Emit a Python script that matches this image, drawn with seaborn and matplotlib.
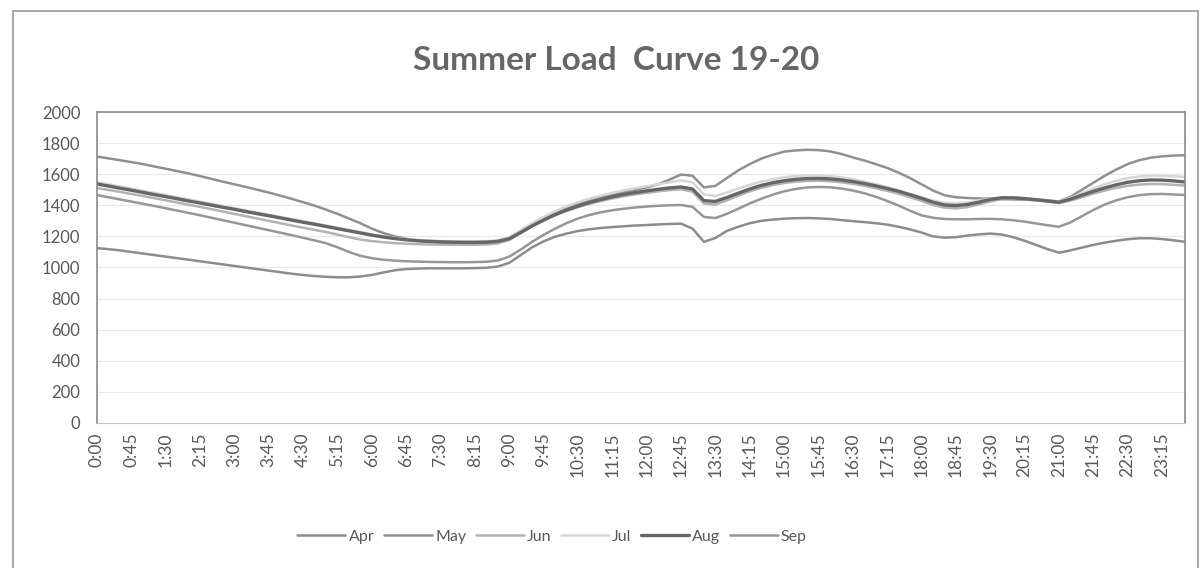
import pandas as pd
import matplotlib.pyplot as plt
import matplotlib.patches as mpatches
import seaborn as sns

# 15-minute load readings, 0:00 .. 23:45 (96 points per month)
months = ['Apr', 'May', 'Jun', 'Jul', 'Aug', 'Sep']

apr = [1125, 1118, 1110, 1100, 1090, 1080, 1070, 1060, 1050, 1040, 1030, 1020,
       1010, 1000, 990, 980, 970, 960, 952, 945, 940, 937, 937, 942,
       952, 968, 982, 990, 993, 995, 995, 995, 995, 996, 998, 1006,
       1030, 1080, 1130, 1168, 1198, 1218, 1235, 1246, 1254, 1260, 1265, 1270,
       1273, 1277, 1280, 1282, 1250, 1165, 1190, 1235, 1262, 1285, 1300, 1308,
       1314, 1317, 1318, 1316, 1312, 1305, 1298, 1292, 1285, 1276, 1262, 1245,
       1225, 1200, 1192, 1195, 1205, 1213, 1218, 1212, 1195, 1172, 1145, 1118,
       1095, 1110, 1128, 1145, 1160, 1172, 1182, 1188, 1188, 1183, 1175, 1165]

may = [1713, 1702, 1690, 1678, 1665, 1650, 1635, 1620, 1605, 1588, 1570, 1552,
       1535, 1518, 1500, 1482, 1462, 1442, 1420, 1398, 1372, 1345, 1315, 1285,
       1250, 1222, 1200, 1185, 1172, 1165, 1160, 1157, 1155, 1155, 1156, 1160,
       1180, 1225, 1275, 1320, 1355, 1385, 1410, 1430, 1450, 1468, 1485, 1500,
       1515, 1535, 1565, 1598, 1590, 1515, 1525, 1575, 1625, 1665, 1700, 1725,
       1745, 1753, 1757, 1755, 1747, 1730, 1708, 1688, 1665, 1640, 1610, 1575,
       1535, 1495, 1465, 1452, 1447, 1444, 1442, 1440, 1438, 1436, 1434, 1430,
       1425, 1455, 1500, 1545, 1590, 1630, 1665, 1690, 1706, 1715, 1720, 1722]

jun = [1511, 1499, 1486, 1473, 1460, 1446, 1432, 1418, 1404, 1390, 1375, 1360,
       1345, 1330, 1315, 1300, 1285, 1270, 1256, 1242, 1228, 1212, 1195, 1180,
       1170, 1162, 1157, 1153, 1150, 1148, 1147, 1146, 1146, 1146, 1148, 1155,
       1178, 1222, 1265, 1302, 1335, 1363, 1388, 1410, 1428, 1444, 1458, 1470,
       1480, 1490, 1498, 1503, 1488, 1412, 1405, 1432, 1462, 1490, 1512, 1530,
       1543, 1552, 1557, 1558, 1555, 1548, 1538, 1525, 1510, 1493, 1475, 1452,
       1428, 1402, 1385, 1380, 1388, 1405, 1425, 1440, 1442, 1438, 1431, 1423,
       1414, 1430, 1452, 1475, 1495, 1512, 1525, 1533, 1537, 1536, 1532, 1527]

jul = [1548, 1535, 1521, 1508, 1494, 1480, 1466, 1452, 1438, 1424, 1410, 1396,
       1382, 1368, 1354, 1340, 1326, 1312, 1298, 1284, 1270, 1256, 1242, 1228,
       1214, 1201, 1191, 1183, 1177, 1173, 1170, 1168, 1167, 1167, 1169, 1175,
       1195, 1240, 1285, 1325, 1362, 1393, 1420, 1443, 1462, 1480, 1496, 1510,
       1523, 1535, 1548, 1560, 1548, 1470, 1460, 1482, 1508, 1532, 1552, 1568,
       1580, 1588, 1592, 1592, 1588, 1580, 1568, 1553, 1536, 1517, 1496, 1474,
       1452, 1430, 1415, 1412, 1418, 1430, 1444, 1452, 1452, 1447, 1440, 1432,
       1425, 1448, 1478, 1508, 1535, 1558, 1575, 1585, 1590, 1590, 1587, 1582]

aug = [1537, 1524, 1510, 1497, 1483, 1469, 1456, 1442, 1428, 1415, 1401, 1387,
       1374, 1360, 1346, 1333, 1319, 1305, 1291, 1278, 1264, 1250, 1236, 1222,
       1208, 1196, 1186, 1178, 1172, 1168, 1165, 1163, 1162, 1162, 1163, 1168,
       1185, 1225, 1268, 1305, 1340, 1370, 1395, 1418, 1437, 1455, 1470, 1482,
       1493, 1503, 1512, 1518, 1505, 1430, 1425, 1450, 1478, 1505, 1528, 1545,
       1558, 1567, 1572, 1573, 1570, 1563, 1553, 1540, 1525, 1508, 1490, 1468,
       1445, 1420, 1402, 1398, 1405, 1420, 1438, 1448, 1448, 1443, 1436, 1428,
       1420, 1440, 1465, 1490, 1512, 1532, 1548, 1558, 1563, 1562, 1557, 1550]

sep = [1466, 1452, 1438, 1424, 1410, 1396, 1381, 1366, 1351, 1336, 1320, 1304,
       1288, 1272, 1256, 1240, 1224, 1208, 1191, 1174, 1156, 1130, 1100, 1075,
       1060, 1050, 1044, 1040, 1038, 1036, 1035, 1034, 1034, 1035, 1037, 1045,
       1070, 1115, 1165, 1210, 1250, 1285, 1315, 1338, 1355, 1368, 1378, 1386,
       1392, 1397, 1400, 1402, 1390, 1325, 1318, 1345, 1378, 1412, 1442, 1468,
       1490, 1505, 1515, 1518, 1516, 1508, 1495, 1478, 1455, 1428, 1398, 1365,
       1335, 1320, 1312, 1310, 1310, 1312, 1313, 1310, 1304, 1295, 1283, 1272,
       1262, 1290, 1330, 1370, 1405, 1432, 1452, 1465, 1472, 1473, 1470, 1466]

series = {'Apr': apr, 'May': may, 'Jun': jun, 'Jul': jul, 'Aug': aug, 'Sep': sep}

# time of day labels, one every 15 minutes
times = [f"{h}:{m:02d}" for h in range(24) for m in (0, 15, 30, 45)]

# scanned (grey) look of the excel colours
colors = {'Apr': '#8c8c8c', 'May': '#909090', 'Jun': '#b2b2b2',
          'Jul': '#d6d6d6', 'Aug': '#666666', 'Sep': '#969696'}
widths = {'Apr': 1.8, 'May': 1.8, 'Jun': 1.8, 'Jul': 1.8, 'Aug': 2.4, 'Sep': 1.8}

rows = []
for m in months:
    for i, v in enumerate(series[m]):
        rows.append({'idx': i, 'time': times[i], 'month': m, 'load': v})
df = pd.DataFrame(rows)

sns.set_style('white')
plt.rcParams['font.family'] = ['Lato', 'DejaVu Sans']

fig = plt.figure(figsize=(12.03, 5.68), dpi=100)
ax = fig.add_axes([0.0806, 0.2553, 0.9044, 0.5475])

for m in months:
    sub = df[df['month'] == m]
    sns.lineplot(x='idx', y='load', data=sub, ax=ax, color=colors[m],
                 linewidth=widths[m], label=m)

ax.set_xlim(0, 95)
ax.set_ylim(0, 2000)
ax.set_yticks(range(0, 2001, 200))
ax.set_xticks(range(0, 96, 3))
ax.set_xticklabels(times[::3], rotation=90)
ax.set_xlabel('')
ax.set_ylabel('')

ax.tick_params(axis='y', length=0, pad=12, labelsize=12, labelcolor='#595959')
ax.tick_params(axis='x', length=0, pad=7, labelsize=12.5, labelcolor='#595959')

ax.grid(axis='y', color='#e8e8e8', linewidth=0.8)
ax.set_axisbelow(True)
for side in ['left', 'top', 'right']:
    ax.spines[side].set_color('#8a8a8a')
    ax.spines[side].set_linewidth(1.2)
ax.spines['bottom'].set_color('#c4c4c4')

fig.text(0.512, 0.894, 'Summer Load  Curve 19-20', ha='center', va='center',
         fontsize=24, fontweight='bold', color='#666666')

handles, labels = ax.get_legend_handles_labels()
ax.legend(handles, labels, loc='center', bbox_to_anchor=(0.459, 0.055),
          bbox_transform=fig.transFigure, ncol=6, frameon=False,
          handlelength=3.0, columnspacing=0.6, handletextpad=0.2,
          fontsize=11.5, labelcolor='#595959')

# outer chart border
fig.patches.append(mpatches.Rectangle((13 / 1203, -0.02), 1185 / 1203, 1.0,
                                      transform=fig.transFigure, fill=False,
                                      edgecolor='#9a9a9a', linewidth=1.2))

fig.savefig('out.png', dpi=100)
